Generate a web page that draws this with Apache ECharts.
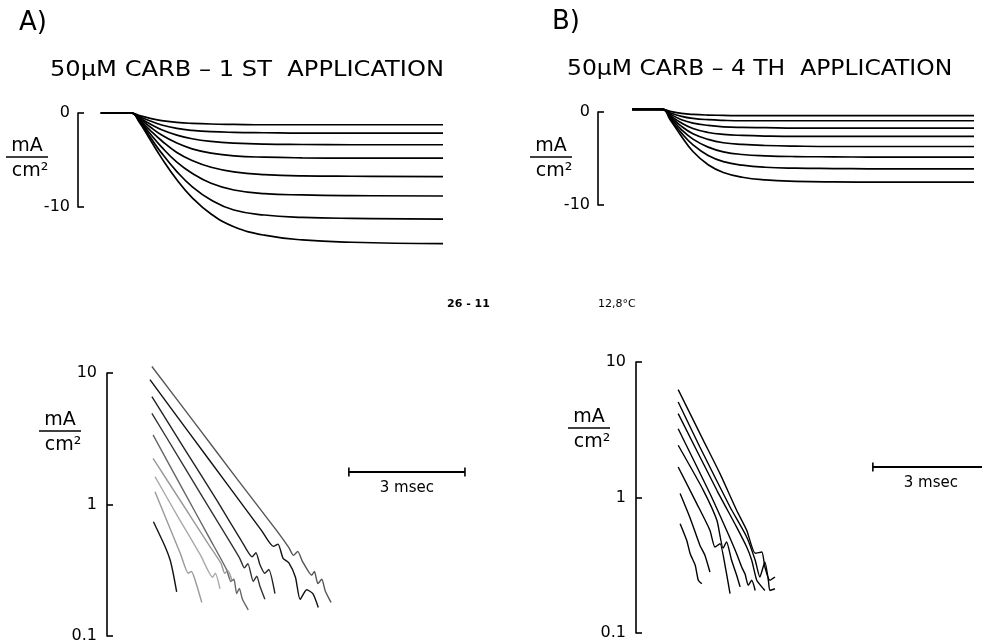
<!DOCTYPE html>
<html>
<head>
<meta charset="utf-8">
<title>50uM CARB</title>
<script src="https://cdn.jsdelivr.net/npm/echarts@6/dist/echarts.min.js"></script>
<style>
  html, body { margin: 0; padding: 0; background: #fff; }
  #main { width: 982px; height: 644px; }
</style>
</head>
<body>
<div id="main"></div>
<script>
// sample times (msec) of the top current traces
var tTop = [0, 0.8, 1.0, 1.3, 1.6, 2.0, 2.4, 2.9, 3.5, 4.3, 5.3, 6.6, 9.0];

// A) 1st application, current in mA/cm2 at tTop
var firstApp = [
  [0, 0, -0.25, -0.57, -0.82, -1.0, -1.1, -1.17, -1.21, -1.25, -1.25, -1.25, -1.25],
  [0, 0, -0.36, -0.85, -1.28, -1.64, -1.85, -1.99, -2.06, -2.1, -2.14, -2.14, -2.14],
  [0, 0, -0.46, -1.17, -1.78, -2.35, -2.74, -3.02, -3.2, -3.31, -3.35, -3.38, -3.38],
  [0, 0, -0.53, -1.49, -2.35, -3.2, -3.81, -4.27, -4.56, -4.7, -4.77, -4.8, -4.8],
  [0, 0, -0.64, -1.85, -2.95, -4.2, -5.05, -5.77, -6.26, -6.55, -6.69, -6.73, -6.76],
  [0, 0, -0.71, -2.21, -3.63, -5.23, -6.41, -7.47, -8.19, -8.58, -8.72, -8.79, -8.83],
  [0, 0, -0.78, -2.56, -4.27, -6.23, -7.83, -9.25, -10.32, -10.85, -11.1, -11.21, -11.28],
  [0, 0, -0.9, -2.85, -4.8, -7.1, -9.0, -10.75, -12.1, -13.0, -13.5, -13.75, -13.9]
];

// B) 4th application, current in mA/cm2 at tTop
var fourthApp = [
  [0.28, 0.28, 0.07, -0.15, -0.26, -0.33, -0.36, -0.4, -0.4, -0.4, -0.4, -0.4, -0.4],
  [0.28, 0.28, -0.08, -0.47, -0.69, -0.83, -0.9, -0.94, -0.94, -0.94, -0.94, -0.94, -0.94],
  [0.28, 0.28, -0.22, -0.83, -1.19, -1.44, -1.59, -1.66, -1.69, -1.73, -1.73, -1.73, -1.73],
  [0.28, 0.28, -0.36, -1.19, -1.77, -2.2, -2.41, -2.52, -2.59, -2.63, -2.63, -2.63, -2.63],
  [0.28, 0.28, -0.47, -1.55, -2.34, -2.95, -3.31, -3.49, -3.6, -3.67, -3.71, -3.71, -3.71],
  [0.28, 0.28, -0.58, -1.91, -2.92, -3.78, -4.28, -4.57, -4.71, -4.79, -4.82, -4.86, -4.86],
  [0.28, 0.28, -0.72, -2.27, -3.53, -4.68, -5.33, -5.72, -5.94, -6.04, -6.08, -6.12, -6.12],
  [0.28, 0.28, -0.83, -2.63, -4.25, -5.68, -6.51, -7.02, -7.3, -7.45, -7.52, -7.55, -7.55]
];

// semilog decay of the tail current, [msec, mA/cm2] - 1st application
var firstAppLog = [
  [[1.16, 11.2], [2.32, 3.98], [3.35, 1.58], [4.39, 0.63], [4.7, 0.47], [4.82, 0.41], [4.93, 0.44], [5.05, 0.37], [5.29, 0.29], [5.36, 0.31], [5.45, 0.25], [5.55, 0.27], [5.64, 0.22], [5.79, 0.18]],
  [[1.11, 8.9], [2.11, 3.55], [3.12, 1.41], [4.0, 0.63], [4.3, 0.48], [4.42, 0.5], [4.55, 0.39], [4.7, 0.36], [4.87, 0.28], [4.99, 0.19], [5.16, 0.225], [5.32, 0.21], [5.46, 0.165]],
  [[1.16, 6.6], [2.01, 2.63], [2.86, 1.05], [3.49, 0.52], [3.75, 0.4], [3.85, 0.43], [3.95, 0.35], [4.08, 0.3], [4.18, 0.32], [4.34, 0.21]],
  [[1.16, 4.94], [1.99, 1.95], [2.81, 0.78], [3.43, 0.39], [3.55, 0.33], [3.64, 0.355], [3.78, 0.26], [3.87, 0.285], [3.95, 0.24], [4.08, 0.19]],
  [[1.19, 3.38], [1.93, 1.35], [2.67, 0.54], [3.09, 0.32], [3.2, 0.26], [3.28, 0.27], [3.35, 0.21], [3.42, 0.23], [3.5, 0.19], [3.65, 0.158]],
  [[1.19, 2.24], [1.96, 1.0], [2.62, 0.5], [2.95, 0.355], [3.04, 0.3], [3.12, 0.315], [3.23, 0.265]],
  [[1.24, 1.63], [1.83, 0.81], [2.42, 0.41], [2.73, 0.28], [2.8, 0.3], [2.92, 0.228]],
  [[1.24, 1.25], [1.55, 0.75], [1.9, 0.42], [2.1, 0.3], [2.18, 0.31], [2.27, 0.27], [2.45, 0.18]],
  [[1.2, 0.74], [1.5, 0.48], [1.63, 0.38], [1.71, 0.3], [1.8, 0.217]]
];
var firstAppLogColors = ['#555', '#111', '#222', '#333', '#666', '#999', '#aaa', '#999', '#111'];

// semilog decay of the tail current, [msec, mA/cm2] - 4th application
var fourthAppLog = [
  [[1.09, 6.25], [1.74, 2.64], [2.17, 1.5], [2.6, 0.805], [2.86, 0.573], [3.08, 0.388], [3.25, 0.396], [3.33, 0.307], [3.46, 0.245], [3.59, 0.259]],
  [[1.09, 5.07], [1.65, 2.36], [2.43, 0.851], [2.86, 0.511], [3.08, 0.344], [3.2, 0.259], [3.33, 0.334], [3.42, 0.245], [3.46, 0.206], [3.59, 0.212]],
  [[1.09, 4.16], [2.09, 1.13], [2.6, 0.605], [2.86, 0.431], [2.99, 0.344], [3.12, 0.245], [3.25, 0.219], [3.33, 0.206]],
  [[1.09, 3.22], [1.91, 1.07], [2.34, 0.573], [2.6, 0.385], [2.73, 0.307], [2.82, 0.271], [2.9, 0.225], [2.99, 0.245], [3.08, 0.206]],
  [[1.09, 2.43], [1.74, 1.13], [2.09, 0.679], [2.25, 0.423], [2.34, 0.47], [2.47, 0.344], [2.6, 0.267], [2.69, 0.219]],
  [[1.09, 1.68], [1.57, 0.902], [1.91, 0.573], [2.04, 0.431], [2.17, 0.457], [2.3, 0.316], [2.43, 0.195]],
  [[1.14, 1.07], [1.4, 0.703], [1.65, 0.445], [1.78, 0.375], [1.91, 0.282]],
  [[1.14, 0.641], [1.31, 0.483], [1.4, 0.385], [1.53, 0.316], [1.61, 0.245], [1.7, 0.231]]
];

// 3 msec calibration bars: [start msec, level mA/cm2]
var barMs = 3;
var barC = [6.25, 1.77];
var barD = [6.12, 1.68];

var chart = echarts.init(document.getElementById('main'));
var font = '"DejaVu Sans", "Liberation Sans", sans-serif';

function linAxis(idx) {
  return {
    gridIndex: idx, type: 'value', min: -10, max: 0, interval: 10,
    axisLine: { show: true, onZero: false, lineStyle: { color: '#000', width: 1.6 } },
    axisTick: { show: true, inside: true, length: 6, lineStyle: { color: '#000', width: 1.6 } },
    axisLabel: { color: '#000', fontSize: 16, fontFamily: font, margin: 8 },
    splitLine: { show: false }
  };
}
function logAxis(idx) {
  return {
    gridIndex: idx, type: 'log', logBase: 10, min: 0.1, max: 10,
    axisLine: { show: true, onZero: false, lineStyle: { color: '#000', width: 1.6 } },
    axisTick: { show: true, inside: true, length: 6, lineStyle: { color: '#000', width: 1.6 } },
    axisLabel: { color: '#000', fontSize: 16, fontFamily: font, margin: 10,
      formatter: function (v) { return v < 0.5 ? '0.1' : String(Math.round(v)); } },
    minorTick: { show: false },
    splitLine: { show: false }
  };
}
function timeAxis(idx, min, max) {
  return { gridIndex: idx, type: 'value', min: min, max: max, show: false };
}

function topSeries(curves, idx) {
  return curves.map(function (vals) {
    return {
      type: 'line', xAxisIndex: idx, yAxisIndex: idx, silent: true, clip: false,
      showSymbol: false, smooth: 0.45,
      lineStyle: { color: '#000', width: 1.7 },
      data: tTop.map(function (t, i) { return [t, vals[i]]; })
    };
  });
}
function logSeries(traces, idx, colors) {
  return traces.map(function (pts, i) {
    return {
      type: 'line', xAxisIndex: idx, yAxisIndex: idx, silent: true, clip: false,
      showSymbol: false, smooth: 0.2,
      lineStyle: { color: colors ? colors[i] : '#000', width: 1.4 },
      data: pts
    };
  });
}
function scaleBar(idx, bar) {
  return {
    type: 'line', xAxisIndex: idx, yAxisIndex: idx, silent: true, clip: false,
    symbol: 'rect', symbolSize: [1.6, 9], showAllSymbol: true,
    itemStyle: { color: '#000' },
    lineStyle: { color: '#000', width: 2 },
    data: [
      [bar[0], bar[1]],
      { value: [bar[0] + barMs / 2, bar[1]], symbolSize: 0,
        label: { show: true, position: 'bottom', distance: 9, formatter: '3 msec',
          color: '#000', fontSize: 15, fontFamily: font } },
      [bar[0] + barMs, bar[1]]
    ]
  };
}

function unitLabel(cx, yTop) {
  var txt = { fill: '#000', font: '19px ' + font, align: 'center', verticalAlign: 'middle' };
  return [
    { type: 'text', x: cx, y: yTop, style: Object.assign({ text: 'mA' }, txt) },
    { type: 'line', shape: { x1: cx - 21, y1: yTop + 11, x2: cx + 21, y2: yTop + 11 },
      style: { stroke: '#000', lineWidth: 1.6 } },
    { type: 'text', x: cx + 3, y: yTop + 25, style: Object.assign({ text: 'cm²' }, txt) }
  ];
}
function label(text, x, y, size, weight, sx) {
  return { type: 'text', x: x, y: y, scaleX: sx || 1,
    style: { text: text, fill: '#000', font: (weight || 'normal') + ' ' + size + 'px ' + font,
      verticalAlign: 'middle' } };
}

var graphics = [
  label('A)', 19, 23, 26),
  label('B)', 552, 22, 26),
  label('50μM CARB – 1 ST  APPLICATION', 50, 70, 22, 'normal', 1.098),
  label('50μM CARB – 4 TH  APPLICATION', 567, 69, 22, 'normal', 1.066),
  label('26 - 11', 447, 304, 11, 'bold'),
  label('12,8°C', 598, 304, 11)
].concat(unitLabel(27, 146), unitLabel(551, 146), unitLabel(60, 420), unitLabel(589, 417));

chart.setOption({
  backgroundColor: '#fff',
  animation: false,
  grid: [
    { left: 78, top: 113, width: 365, height: 94 },
    { left: 598, top: 112, width: 376, height: 93 },
    { left: 107, top: 373, width: 380, height: 263 },
    { left: 636, top: 362, width: 346, height: 271 }
  ],
  xAxis: [timeAxis(0, -0.6, 9.0), timeAxis(1, -0.9, 9.0), timeAxis(2, 0, 9.82), timeAxis(3, 0, 8.94)],
  yAxis: [linAxis(0), linAxis(1), logAxis(2), logAxis(3)],
  graphic: graphics,
  series: [].concat(
    topSeries(firstApp, 0),
    topSeries(fourthApp, 1),
    logSeries(firstAppLog, 2, firstAppLogColors),
    logSeries(fourthAppLog, 3),
    [scaleBar(2, barC), scaleBar(3, barD)]
  )
});
</script>
</body>
</html>
